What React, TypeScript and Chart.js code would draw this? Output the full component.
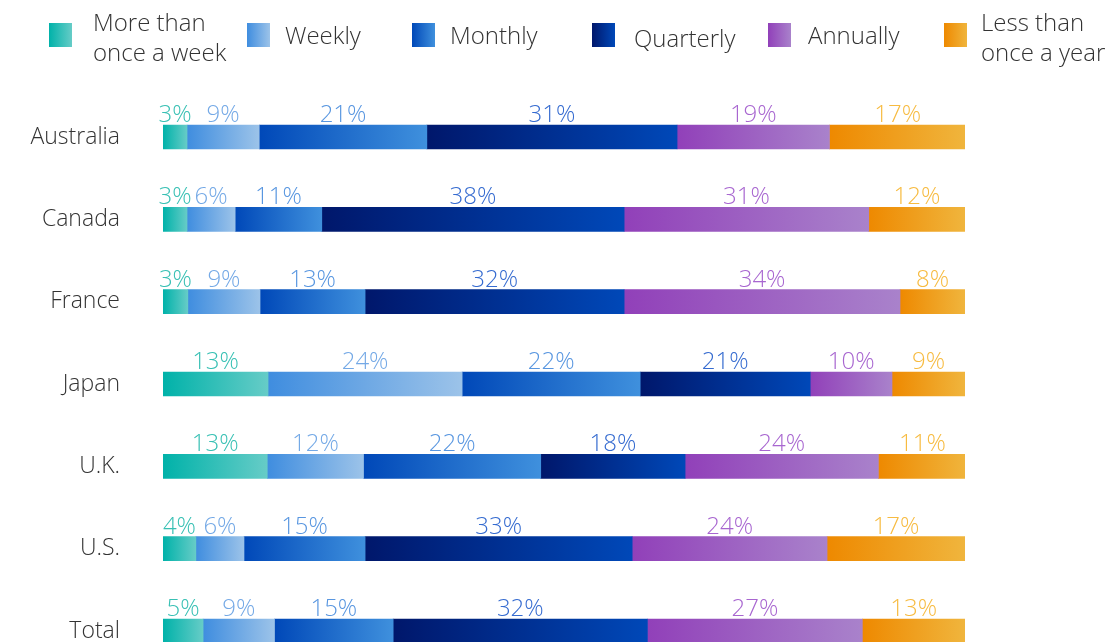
import React, { useEffect, useRef } from "react";
import { Chart, registerables } from "chart.js";

Chart.register(...registerables);

const categories = ["Australia", "Canada", "France", "Japan", "U.K.", "U.S.", "Total"];

const moreThanWeekly = [3.0, 3.0, 3.1, 13.1, 13.0, 4.1, 5.0];
const weekly = [9.0, 6.0, 9.0, 24.2, 12.0, 6.0, 8.9];
const monthly = [20.9, 10.8, 13.1, 22.2, 22.1, 15.1, 14.8];
const quarterly = [31.2, 37.7, 32.3, 21.2, 18.0, 33.3, 31.7];
const annually = [19.0, 30.5, 34.4, 10.2, 24.1, 24.3, 26.8];
const lessThanYearly = [17.0, 12.0, 8.1, 9.1, 11.0, 17.2, 12.8];

const seriesNames: (string | string[])[] = [
  ["More than", "once a week"],
  "Weekly",
  "Monthly",
  "Quarterly",
  "Annually",
  ["Less than", "once a year"],
];
const seriesData = [moreThanWeekly, weekly, monthly, quarterly, annually, lessThanYearly];

const gradStops: [string, string][] = [
  ["#00b2a9", "#66ccc7"],
  ["#3f8ddf", "#9cc3e9"],
  ["#0048b8", "#3f90dd"],
  ["#00176b", "#0048b8"],
  ["#9140b9", "#a982cb"],
  ["#ee8900", "#f0b53d"],
];
const labelColors = ["#38c0b4", "#74a9e6", "#5896e0", "#356bd0", "#a866d0", "#f7bb40"];

const FONT = "'Open Sans', 'Noto Sans', sans-serif";
const CANVAS_H = 730;

const legendItems = [
  { x: 49, tx: 93, dy: 0 },
  { x: 247, tx: 285, dy: 0 },
  { x: 412, tx: 450, dy: 0 },
  { x: 592, tx: 634, dy: 3 },
  { x: 768, tx: 808, dy: 0 },
  { x: 944, tx: 981, dy: 0 },
];

const legendPlugin = {
  id: "customLegend",
  afterDraw(chart: any) {
    const ctx = chart.ctx as CanvasRenderingContext2D;
    ctx.save();
    legendItems.forEach((it, i) => {
      const g = ctx.createLinearGradient(it.x, 0, it.x + 23, 0);
      g.addColorStop(0, gradStops[i][0]);
      g.addColorStop(1, gradStops[i][1]);
      ctx.fillStyle = g;
      ctx.fillRect(it.x, 23, 23, 24);
      ctx.fillStyle = "#333333";
      ctx.font = `300 24px ${FONT}`;
      ctx.textAlign = "left";
      ctx.textBaseline = "alphabetic";
      const name = seriesNames[i];
      if (Array.isArray(name)) {
        ctx.fillText(name[0], it.tx, 31);
        ctx.fillText(name[1], it.tx, 61);
      } else {
        ctx.fillText(name, it.tx, 44 + it.dy);
      }
    });
    ctx.restore();
  },
};

const valueLabelPlugin = {
  id: "valueLabels",
  afterDatasetsDraw(chart: any) {
    const ctx = chart.ctx as CanvasRenderingContext2D;
    ctx.save();
    ctx.font = `300 24px ${FONT}`;
    ctx.textAlign = "center";
    ctx.textBaseline = "alphabetic";
    chart.data.datasets.forEach((ds: any, di: number) => {
      const meta = chart.getDatasetMeta(di);
      meta.data.forEach((el: any, idx: number) => {
        const v = ds.data[idx];
        const cx = (el.x + el.base) / 2;
        const top = el.y - el.height / 2;
        ctx.fillStyle = labelColors[di];
        ctx.fillText(`${Math.round(v)}%`, cx, top - 3);
      });
    });
    ctx.restore();
  },
};

export default function App() {
  const ref = useRef<HTMLCanvasElement | null>(null);
  useEffect(() => {
    document.body.style.margin = "0";
    document.body.style.overflow = "hidden";
    const canvas = ref.current!;
    const datasets = seriesData.map((data, di) => ({
      label: Array.isArray(seriesNames[di]) ? (seriesNames[di] as string[]).join(" ") : (seriesNames[di] as string),
      data,
      barThickness: 24,
      borderWidth: 0,
      backgroundColor: (c: any) => {
        const chart = c.chart;
        if (!chart.chartArea || c.dataIndex === undefined) return gradStops[di][0];
        const xs = chart.scales.x;
        let start = 0;
        for (let k = 0; k < di; k++) start += seriesData[k][c.dataIndex];
        const end = start + seriesData[di][c.dataIndex];
        const x0 = xs.getPixelForValue(start);
        const x1 = xs.getPixelForValue(end);
        const g = chart.ctx.createLinearGradient(x0, 0, x1, 0);
        g.addColorStop(0, gradStops[di][0]);
        g.addColorStop(1, gradStops[di][1]);
        return g;
      },
    }));
    const chart = new Chart(canvas, {
      type: "bar",
      data: { labels: categories, datasets },
      options: {
        indexAxis: "y",
        animation: false,
        responsive: false,
        maintainAspectRatio: false,
        layout: { padding: { top: 95.8, bottom: CANVAS_H - 672.2, left: 0, right: 142 } },
        plugins: { legend: { display: false }, tooltip: { enabled: false } },
        scales: {
          x: { stacked: true, min: 0, max: 100, display: false },
          y: {
            stacked: true,
            grid: { display: false },
            border: { display: false },
            ticks: {
              color: "#333333",
              padding: 35,
              font: { family: FONT, size: 23, weight: "300" as any },
            },
            afterFit: (scale: any) => {
              scale.width = 163;
            },
          },
        },
      },
      plugins: [legendPlugin, valueLabelPlugin],
    });
    return () => chart.destroy();
  }, []);
  return (
    <div style={{ width: 1107, height: CANVAS_H, position: "relative" }}>
      <canvas ref={ref} width={1107} height={CANVAS_H} style={{ width: 1107, height: CANVAS_H, display: "block" }} />
    </div>
  );
}
